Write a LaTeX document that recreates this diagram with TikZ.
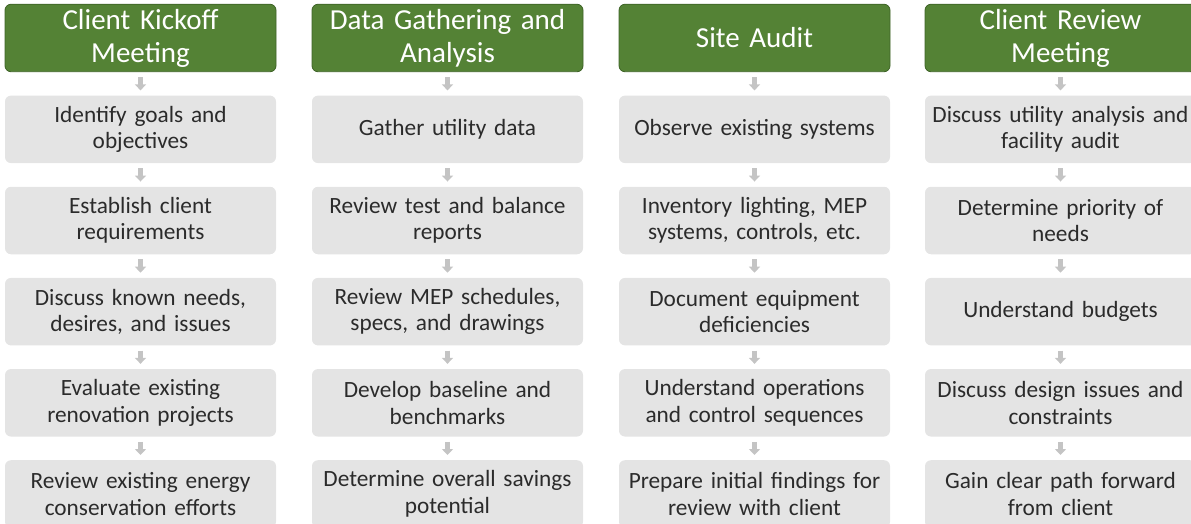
\documentclass[tikz,border=0pt]{standalone}
\usepackage{fontspec}
\setmainfont{Carlito}
\usetikzlibrary{positioning,arrows.meta}
\definecolor{headgreen}{HTML}{548235}
\definecolor{headline}{HTML}{3E6327}
\definecolor{boxgray}{HTML}{E4E4E4}
\definecolor{arrowgray}{HTML}{C4C4C4}
\definecolor{textgray}{HTML}{2B2B2B}

\begin{document}
\begin{tikzpicture}[x=1pt, y=-1pt, node distance=23.25pt,
    head/.style={draw=headline, line width=0.8pt, fill=headgreen, rounded corners=6pt,
      text=white, minimum width=271pt, minimum height=67.5pt, text width=266pt,
      align=center, inner sep=0pt, font=\fontsize{29}{33}\selectfont},
    task/.style={fill=boxgray, rounded corners=6pt, text=textgray,
      minimum width=271pt, minimum height=67.5pt, text width=268pt,
      align=center, inner sep=0pt, font=\fontsize{23.3}{26.5}\selectfont},
    down/.style={draw=arrowgray, line width=5pt, shorten <=5pt, shorten >=5pt,
      -{Triangle[width=11pt,length=6pt]}}]
\useasboundingbox (0,0) rectangle (1191,524);

% Client Kickoff Meeting
\node[head] (k0) at (140.5,38) {Client Kickoff\\ Meeting};
\node[task, below=of k0] (k1) {Identify goals and\\ objectives};
\node[task, below=of k1] (k2) {Establish client\\ requirements};
\node[task, below=of k2] (k3) {Discuss known needs,\\ desires, and issues};
\node[task, below=of k3] (k4) {Evaluate existing\\ renovation projects};
\node[task, below=of k4] (k5) {Review existing energy\\ conservation efforts};

% Data Gathering and Analysis
\node[head] (d0) at (447.5,38) {Data Gathering and\\ Analysis};
\node[task, below=of d0] (d1) {Gather utility data};
\node[task, below=of d1] (d2) {Review test and balance\\ reports};
\node[task, below=of d2] (d3) {Review MEP schedules,\\ specs, and drawings};
\node[task, below=of d3] (d4) {Develop baseline and\\ benchmarks};
\node[task, below=of d4] (d5) {Determine overall savings\\ potential};

% Site Audit
\node[head] (s0) at (754.5,38) {Site Audit};
\node[task, below=of s0] (s1) {Observe existing systems};
\node[task, below=of s1] (s2) {Inventory lighting, MEP\\ systems, controls, etc.};
\node[task, below=of s2] (s3) {Document equipment\\ deficiencies};
\node[task, below=of s3] (s4) {Understand operations\\ and control sequences};
\node[task, below=of s4] (s5) {Prepare initial findings for\\ review with client};

% Client Review Meeting
\node[head] (r0) at (1060.5,38) {Client Review\\ Meeting};
\node[task, below=of r0] (r1) {Discuss utility analysis and\\ facility audit};
\node[task, below=of r1] (r2) {Determine priority of\\ needs};
\node[task, below=of r2] (r3) {Understand budgets};
\node[task, below=of r3] (r4) {Discuss design issues and\\ constraints};
\node[task, below=of r4] (r5) {Gain clear path forward\\ from client};

\foreach \c in {k,d,s,r}
  \foreach \i/\j in {0/1,1/2,2/3,3/4,4/5}
    \draw[down] (\c\i.south) -- (\c\j.north);

\end{tikzpicture}
\end{document}
